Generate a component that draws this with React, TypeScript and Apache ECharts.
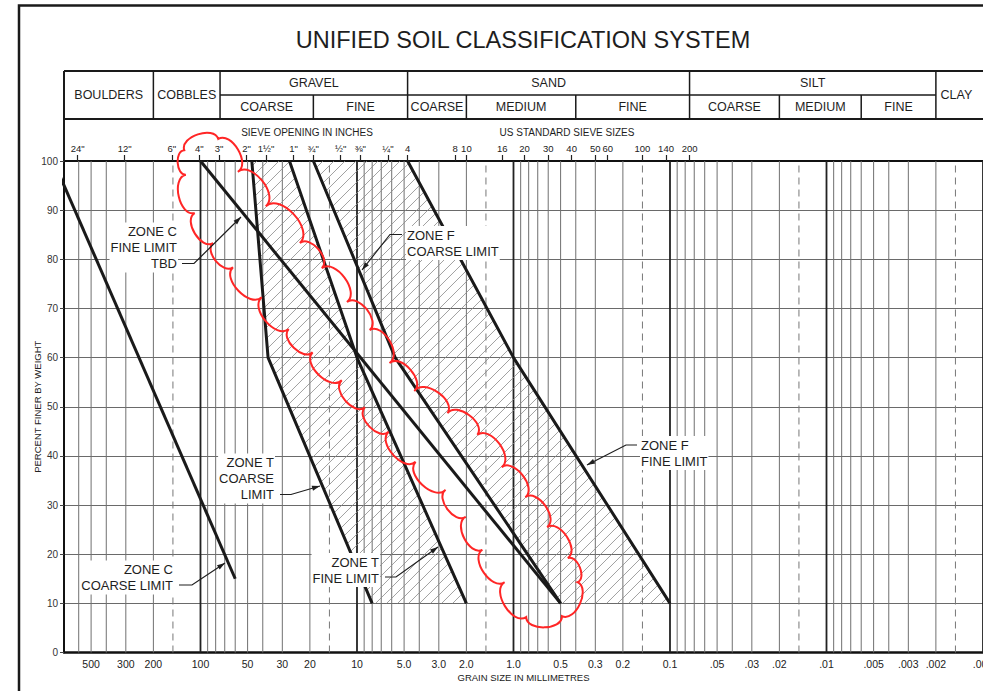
import React, { useEffect, useRef } from 'react';
import * as echarts from 'echarts';

const FONT = 'Liberation Sans, Arial, Helvetica, sans-serif';
const TITLE = 'UNIFIED SOIL CLASSIFICATION SYSTEM';

// axis extent (grain size, mm) – axis runs from coarse (left) to fine (right)
const X_MAX_MM = 745;
const X_MIN_MM = 0.001;

// bottom axis labels
const grainTickValues = [500, 300, 200, 100, 50, 30, 20, 10, 5, 3, 2, 1, 0.5, 0.3, 0.2, 0.1, 0.05, 0.03, 0.02, 0.01, 0.005, 0.003, 0.002, 0.001];
const grainTickLabels = ['500', '300', '200', '100', '50', '30', '20', '10', '5.0', '3.0', '2.0', '1.0', '0.5', '0.3', '0.2', '0.1', '.05', '.03', '.02', '.01', '.005', '.003', '.002', '.001'];

// top axis: sieve openings (mm) and their labels
const sieveValuesMm = [609.6, 304.8, 152.4, 101.6, 76.2, 50.8, 38.1, 25.4, 19.05, 12.7, 9.525, 6.35, 4.75, 2.36, 2.0, 1.18, 0.85, 0.6, 0.425, 0.3, 0.25, 0.15, 0.106, 0.075];
const sieveLabels = ['24"', '12"', '6"', '4"', '3"', '2"', '1½"', '1"', '¾"', '½"', '⅜"', '¼"', '4', '8', '10', '16', '20', '30', '40', '50', '60', '100', '140', '200'];

// classification table boundaries (mm)
const majorBoundsMm = [200, 75, 4.75, 0.075, 0.002];
const minorBoundsMm = [19, 2, 0.4, 0.02, 0.006];

// zone limit curves: grain size (mm) and percent finer
const zoneCCoarseMm = [870, 60];
const zoneCCoarsePct = [100, 15];
const zoneCFineMm = [100, 0.5];
const zoneCFinePct = [100, 10];
const zoneTCoarseMm = [47, 37, 8];
const zoneTCoarsePct = [100, 60, 10];
const zoneTFineMm = [27, 10, 2];
const zoneTFinePct = [100, 60, 10];
const zoneFCoarseMm = [19, 5.7, 0.5];
const zoneFCoarsePct = [100, 60, 10];
const zoneFFineMm = [4.75, 1.0, 0.1];
const zoneFFinePct = [100, 60, 10];

// revision cloud cusp points (mm, percent)
const cloudMm = [127, 77, 57.7, 38.3, 23.2, 16.8, 11.6, 8.3, 6.2, 4.3, 2.64, 1.7, 1.19, 0.84, 0.61, 0.45, 0.39, 0.49, 0.83, 1.14, 1.58, 2.02, 2.72, 4.22, 6.28, 8.9, 12.5, 19.2, 27.3, 40.6, 62, 83, 109, 124];
const cloudPct = [102.2, 104.5, 97.8, 90.8, 83.3, 78.2, 71.3, 65.6, 58.9, 53.2, 48.7, 44.3, 37.7, 31.6, 25.5, 19.2, 14.3, 7.4, 7.2, 14.3, 20.9, 27.6, 33.1, 38.8, 44.9, 49.9, 55.4, 61.1, 65.8, 72.3, 78.4, 83.3, 89.4, 97.2];

// annotations (pixel layout)
const notes = [
  { text: 'ZONE C\nFINE LIMIT\nTBD', x: 178, y: 247.5, align: 'right', leader: [[182, 263.5], [194, 263.5], [241, 217]] },
  { text: 'ZONE F\nCOARSE LIMIT', x: 406, y: 243, align: 'left', leader: [[402, 234.5], [390, 234.5], [362, 270]] },
  { text: 'ZONE T\nCOARSE\nLIMIT', x: 275, y: 478.5, align: 'right', leader: [[280, 494.5], [291, 494.5], [320, 486]] },
  { text: 'ZONE C\nCOARSE LIMIT', x: 174, y: 577.5, align: 'right', leader: [[179, 585], [192, 585], [225, 563]] },
  { text: 'ZONE T\nFINE LIMIT', x: 380, y: 570, align: 'right', leader: [[385, 577], [396, 577], [438, 547]] },
  { text: 'ZONE F\nFINE LIMIT', x: 640, y: 453, align: 'left', leader: [[637, 445], [626, 445], [587, 465]] },
];

const L = (v: number) => Math.log10(v);

function labelLookup(values: number[], labels: string[]) {
  return (v: number) => {
    for (let i = 0; i < values.length; i++) if (Math.abs(L(values[i]) - v) < 1e-7) return labels[i];
    return '';
  };
}

function pairs(mm: number[], pct: number[]) {
  return mm.map((m, i) => [L(m), pct[i]]);
}

export default function App() {
  const ref = useRef<HTMLDivElement>(null);
  useEffect(() => {
    const chart = echarts.init(ref.current!, null, { renderer: 'svg' });
    const xMin = L(X_MIN_MM);
    const xMax = L(X_MAX_MM);

    // vertical grid lines (log cycles)
    const vGrid: number[][] = [];
    for (let e = -3; e <= 2; e++) {
      for (let m = 1; m <= 9; m++) {
        const v = m * Math.pow(10, e);
        if (v <= 600) vGrid.push([L(v), m === 1 ? 1 : 0]);
      }
      const d = 1.5 * Math.pow(10, e);
      vGrid.push([L(d), 2]);
    }

    const hatchPolys = [
      pairs(zoneTCoarseMm, zoneTCoarsePct).concat(pairs(zoneTFineMm, zoneTFinePct).reverse()),
      pairs(zoneFCoarseMm, zoneFCoarsePct).concat(pairs(zoneFFineMm, zoneFFinePct).reverse()),
    ];

    const lineSeries = (name: string, mm: number[], pct: number[]) => ({
      name, type: 'line', data: pairs(mm, pct), symbol: 'none', z: 5, clip: true,
      lineStyle: { color: '#1a1a1a', width: 3 }, silent: true,
    });

    const option: any = {
      animation: false,
      backgroundColor: '#fff',
      textStyle: { fontFamily: FONT },
      grid: { left: 64, right: 0, top: 161, bottom: 38.5, containLabel: false, outerBoundsMode: 'none' },
      xAxis: [
        {
          type: 'value', min: xMin, max: xMax, inverse: true, position: 'bottom',
          axisLine: { show: true, onZero: false, lineStyle: { color: '#111', width: 2.5 } },
          axisTick: { show: false },
          splitLine: { show: false },
          axisLabel: {
            customValues: grainTickValues.map(L), formatter: labelLookup(grainTickValues, grainTickLabels),
            fontSize: 10.5, color: '#222', margin: 6, fontFamily: FONT,
          },
          name: 'GRAIN SIZE IN MILLIMETRES', nameLocation: 'middle', nameGap: 20, nameMoveOverlap: false,
          nameTextStyle: { fontSize: 9.5, color: '#222', fontFamily: FONT },
        },
        {
          type: 'value', min: xMin, max: xMax, inverse: true, position: 'top', gridIndex: 0,
          axisLine: { show: true, onZero: false, lineStyle: { color: '#111', width: 2 } },
          axisTick: { show: true, customValues: sieveValuesMm.map(L), length: 6, lineStyle: { color: '#222', width: 1.2 } },
          axisLabel: {
            customValues: sieveValuesMm.map(L), formatter: labelLookup(sieveValuesMm, sieveLabels),
            fontSize: 9.5, color: '#222', margin: 8, fontFamily: FONT,
          },
          splitLine: { show: false },
        },
      ],
      yAxis: {
        type: 'value', min: 0, max: 100, interval: 10,
        axisLine: { show: true, onZero: false, lineStyle: { color: '#111', width: 2 } },
        axisTick: { show: true, length: 4, lineStyle: { color: '#444' } },
        axisLabel: { fontSize: 10, color: '#333', margin: 6, fontFamily: FONT },
        splitLine: { show: true, lineStyle: { color: '#6a6a6a', width: 1 } },
        name: 'PERCENT FINER BY WEIGHT', nameLocation: 'middle', nameGap: 22, nameRotate: 90, nameMoveOverlap: false,
        nameTextStyle: { fontSize: 9.5, color: '#222', fontFamily: FONT },
      },
      series: [
        {
          type: 'custom', name: 'vgrid', coordinateSystem: 'cartesian2d', silent: true, z: 1,
          data: vGrid,
          renderItem: (_p: any, api: any) => {
            const v = api.value(0);
            const kind = api.value(1);
            const a = api.coord([v, 0]);
            const b = api.coord([v, 100]);
            const style: any = kind === 1
              ? { stroke: '#222', lineWidth: 1.8 }
              : kind === 2
                ? { stroke: '#777', lineWidth: 1, lineDash: [7, 5] }
                : { stroke: '#707070', lineWidth: 1 };
            return { type: 'line', shape: { x1: a[0], y1: a[1], x2: b[0], y2: b[1] }, style };
          },
        },
        {
          type: 'custom', name: 'hatch', coordinateSystem: 'cartesian2d', silent: true, z: 2,
          data: [[0, 50]],
          renderItem: (_p: any, api: any) => {
            const children: any[] = [];
            const step = 11;
            hatchPolys.forEach((poly) => {
              const pts = poly.map((q) => api.coord(q));
              let minC = Infinity, maxC = -Infinity;
              pts.forEach((q: number[]) => { const c = q[0] + q[1]; minC = Math.min(minC, c); maxC = Math.max(maxC, c); });
              for (let c = Math.ceil(minC / step) * step; c <= maxC; c += step) {
                const xs: number[][] = [];
                for (let i = 0; i < pts.length; i++) {
                  const a = pts[i], b = pts[(i + 1) % pts.length];
                  const sa = a[0] + a[1] - c, sb = b[0] + b[1] - c;
                  if ((sa < 0) !== (sb < 0)) {
                    const t = sa / (sa - sb);
                    xs.push([a[0] + t * (b[0] - a[0]), a[1] + t * (b[1] - a[1])]);
                  }
                }
                xs.sort((u, w) => u[0] - w[0]);
                for (let k = 0; k + 1 < xs.length; k += 2) {
                  children.push({
                    type: 'line',
                    shape: { x1: xs[k][0], y1: xs[k][1], x2: xs[k + 1][0], y2: xs[k + 1][1] },
                    style: { stroke: '#8a8a8a', lineWidth: 0.8 },
                  });
                }
              }
            });
            return { type: 'group', children };
          },
        },
        lineSeries('Zone C coarse limit', zoneCCoarseMm, zoneCCoarsePct),
        lineSeries('Zone C fine limit', zoneCFineMm, zoneCFinePct),
        lineSeries('Zone T coarse limit', zoneTCoarseMm, zoneTCoarsePct),
        lineSeries('Zone T fine limit', zoneTFineMm, zoneTFinePct),
        lineSeries('Zone F coarse limit', zoneFCoarseMm, zoneFCoarsePct),
        lineSeries('Zone F fine limit', zoneFFineMm, zoneFFinePct),
        {
          type: 'custom', name: 'cloud', coordinateSystem: 'cartesian2d', silent: true, z: 6,
          data: [[0, 50]],
          renderItem: (_p: any, api: any) => {
            const pts = cloudMm.map((m, i) => api.coord([L(m), cloudPct[i]]));
            const n = pts.length;
            let area = 0;
            for (let i = 0; i < n; i++) {
              const a = pts[i], b = pts[(i + 1) % n];
              area += a[0] * b[1] - b[0] * a[1];
            }
            const sg = area > 0 ? 1 : -1;
            let d = `M${pts[0][0]},${pts[0][1]}`;
            for (let i = 0; i < n; i++) {
              const a = pts[i], b = pts[(i + 1) % n];
              const dx = b[0] - a[0], dy = b[1] - a[1];
              const len = Math.sqrt(dx * dx + dy * dy) || 1;
              const nx = (sg * dy) / len, ny = (-sg * dx) / len;
              const h = 0.4 * len;
              d += ` C${a[0] + nx * h},${a[1] + ny * h} ${b[0] + nx * h},${b[1] + ny * h} ${b[0]},${b[1]}`;
            }
            d += ' Z';
            return { type: 'path', shape: { pathData: d }, style: { fill: 'none', stroke: '#ff2626', lineWidth: 2 } };
          },
        },
      ],
    };
    chart.setOption(option);

    // decorative frame, title, classification table, annotations
    const X = (mm: number) => chart.convertToPixel({ xAxisIndex: 0 }, L(mm)) as number;
    const left = X(X_MAX_MM);
    const right = 983;
    const tTop = 71, tMid = 95, tBot = 119, plotTop = 161;
    const g: any[] = [];
    const ln = (x1: number, y1: number, x2: number, y2: number, w: number) =>
      g.push({ type: 'line', z: 30, silent: true, shape: { x1, y1, x2, y2 }, style: { stroke: '#1a1a1a', lineWidth: w } });
    const txt = (x: number, y: number, text: string, size: number, extra: any = {}) =>
      g.push({ type: 'text', z: 30, silent: true, x, y, style: { text, fill: '#1e1e1e', fontSize: size, fontFamily: FONT, align: 'center', verticalAlign: 'middle', ...extra } });

    // outer frame
    g.push({ type: 'polyline', z: 30, silent: true, shape: { points: [[19, 691], [19, 5.5], [983, 5.5]] }, style: { stroke: '#1a1a1a', lineWidth: 2.5, fill: null } });
    txt(523, 40, TITLE, 23.5);

    // table
    ln(left, tTop, right, tTop, 2);
    ln(left, tBot, right, tBot, 2);
    ln(X(75), tMid, X(0.002), tMid, 1.5);
    ln(left, tTop, left, plotTop, 2);
    majorBoundsMm.forEach((v) => ln(X(v), tTop, X(v), tBot, 1.5));
    minorBoundsMm.forEach((v) => ln(X(v), tMid, X(v), tBot, 1.5));
    const cx = (a: number, b: number) => (a + b) / 2;
    const fs = 12.5;
    txt(cx(left, X(200)), 95, 'BOULDERS', fs);
    txt(cx(X(200), X(75)), 95, 'COBBLES', fs);
    txt(cx(X(0.002), 977), 95, 'CLAY', fs);
    txt(cx(X(75), X(4.75)), 83, 'GRAVEL', fs);
    txt(cx(X(4.75), X(0.075)), 83, 'SAND', fs);
    txt(cx(X(0.075), X(0.002)), 83, 'SILT', fs);
    txt(cx(X(75), X(19)), 107, 'COARSE', fs);
    txt(cx(X(19), X(4.75)), 107, 'FINE', fs);
    txt(cx(X(4.75), X(2)), 107, 'COARSE', fs);
    txt(cx(X(2), X(0.4)), 107, 'MEDIUM', fs);
    txt(cx(X(0.4), X(0.075)), 107, 'FINE', fs);
    txt(cx(X(0.075), X(0.02)), 107, 'COARSE', fs);
    txt(cx(X(0.02), X(0.006)), 107, 'MEDIUM', fs);
    txt(cx(X(0.006), X(0.002)), 107, 'FINE', fs);
    txt(307, 132, 'SIEVE OPENING IN INCHES', 10);
    txt(567, 132, 'US STANDARD SIEVE SIZES', 10);

    // annotations with leaders
    notes.forEach((n) => {
      g.push({
        type: 'text', z: 40, silent: true, x: n.x, y: n.y,
        style: { text: n.text, fill: '#1e1e1e', fontSize: 13, fontFamily: FONT, align: n.align, verticalAlign: 'middle', lineHeight: 16, backgroundColor: '#fff', padding: [1, 1] },
      });
      g.push({ type: 'polyline', z: 40, silent: true, shape: { points: n.leader }, style: { stroke: '#1e1e1e', lineWidth: 1.2, fill: null } });
      const tip = n.leader[n.leader.length - 1];
      const prev = n.leader[n.leader.length - 2];
      const dx = tip[0] - prev[0], dy = tip[1] - prev[1];
      const len = Math.sqrt(dx * dx + dy * dy);
      const ux = dx / len, uy = dy / len;
      const bx = tip[0] - ux * 8, by = tip[1] - uy * 8;
      g.push({
        type: 'polygon', z: 40, silent: true,
        shape: { points: [tip, [bx - uy * 2.5, by + ux * 2.5], [bx + uy * 2.5, by - ux * 2.5]] },
        style: { fill: '#1e1e1e' },
      });
    });

    chart.setOption({ graphic: g });
    return () => chart.dispose();
  }, []);
  return <div ref={ref} style={{ position: 'fixed', left: 0, top: 0, width: 983, height: 691, background: '#fff' }} />;
}
